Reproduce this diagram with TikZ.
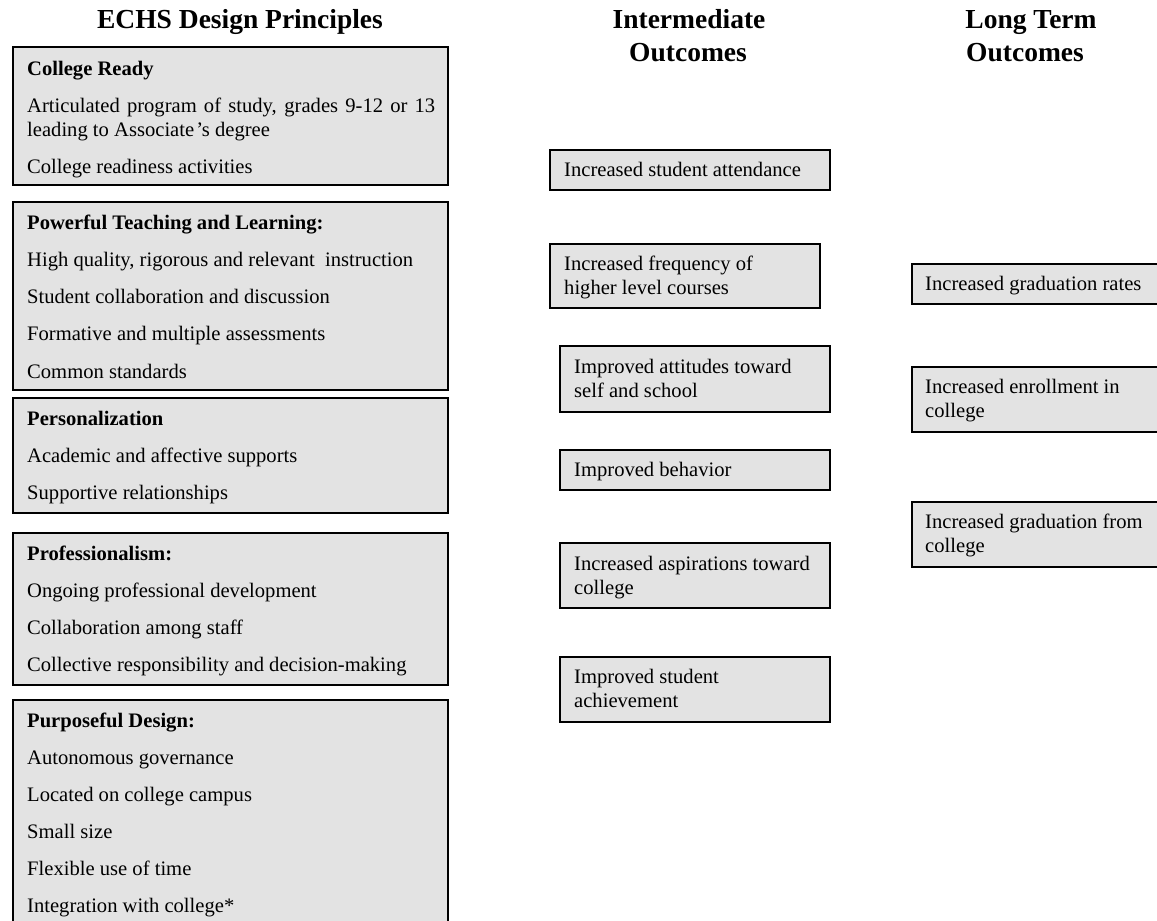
\documentclass[tikz,border=0pt]{standalone}
\usepackage{fontspec}
\setmainfont{Liberation Serif}
\definecolor{boxfill}{RGB}{227,227,227}
\begin{document}
\begin{tikzpicture}[x=1pt,y=-1pt,
  pbox/.style={draw=black, line width=2.2pt, fill=boxfill, rectangle, anchor=north west, inner sep=0pt},
  txt/.style={anchor=base west, inner sep=0pt, font=\fontsize{20.6}{24}\selectfont},
  hdr/.style={anchor=base west, inner sep=0pt, font=\fontsize{20.6}{24}\selectfont\bfseries},
  ttl/.style={anchor=base, inner sep=0pt, font=\fontsize{27.5}{33}\selectfont\bfseries}]
\useasboundingbox (0,0) rectangle (1157,921);
\fill[white] (0,0) rectangle (1157,921);
\clip (0,0) rectangle (1157,921);

% titles
\node[ttl] (tA) at (240,28) {ECHS Design Principles};
\node[ttl] (tB1) at (689,28) {Intermediate};
\node[ttl] (tB2) at (688,61) {Outcomes};
\node[ttl] (tC1) at (1031,28) {Long Term};
\node[ttl] (tC2) at (1025,61) {Outcomes};

% left column boxes
\node[pbox, minimum width=435pt, minimum height=138pt] (b1) at (12,46) {};
\node[pbox, minimum width=435pt, minimum height=188pt] (b2) at (12,201) {};
\node[pbox, minimum width=435pt, minimum height=115pt] (b3) at (12,397) {};
\node[pbox, minimum width=435pt, minimum height=152pt] (b4) at (12,532) {};
\node[pbox, minimum width=435pt, minimum height=260pt] (b5) at (12,699) {};

\node[hdr] (b1h) at (27,75) {College Ready};
\node[txt] (b1a) at (27,112) {\makebox[408pt][s]{Articulated program of study, grades 9-12 or 13}};
\node[txt] (b1b) at (27,136) {leading to Associate\kern2pt’s degree};
\node[txt] (b1c) at (27,173) {College readiness activities};

\node[hdr] (b2h) at (27,229) {Powerful Teaching and Learning:};
\node[txt] (b2a) at (27,266) {High quality, rigorous and relevant~ instruction};
\node[txt] (b2b) at (27,303) {Student collaboration and discussion};
\node[txt] (b2c) at (27,340) {Formative and multiple assessments};
\node[txt] (b2d) at (27,378) {Common standards};

\node[hdr] (b3h) at (27,425) {Personalization};
\node[txt] (b3a) at (27,462) {Academic and affective supports};
\node[txt] (b3b) at (27,499) {Supportive relationships};

\node[hdr] (b4h) at (27,560) {Professionalism:};
\node[txt] (b4a) at (27,597) {Ongoing professional development};
\node[txt] (b4b) at (27,634) {Collaboration among staff};
\node[txt] (b4c) at (27,671) {Collective responsibility and decision-making};

\node[hdr] (b5h) at (27,727) {Purposeful Design:};
\node[txt] (b5a) at (27,764) {Autonomous governance};
\node[txt] (b5b) at (27,801) {Located on college campus};
\node[txt] (b5c) at (27,838) {Small size};
\node[txt] (b5d) at (27,875) {Flexible use of time};
\node[txt] (b5e) at (27,912) {Integration with college*};

% intermediate outcomes
\node[pbox, minimum width=280pt, minimum height=40pt] (m1) at (549,149) {};
\node[txt] (m1a) at (564,176) {Increased student attendance};

\node[pbox, minimum width=270pt, minimum height=64pt] (m2) at (549,243) {};
\node[txt] (m2a) at (564,270) {Increased frequency of};
\node[txt] (m2b) at (564,294) {higher level courses};

\node[pbox, minimum width=270pt, minimum height=66pt] (m3) at (559,345) {};
\node[txt] (m3a) at (574,373) {Improved attitudes toward};
\node[txt] (m3b) at (574,397) {self and school};

\node[pbox, minimum width=270pt, minimum height=40pt] (m4) at (559,449) {};
\node[txt] (m4a) at (574,476) {Improved behavior};

\node[pbox, minimum width=270pt, minimum height=65pt] (m5) at (559,542) {};
\node[txt] (m5a) at (574,570) {Increased aspirations toward};
\node[txt] (m5b) at (574,594) {college};

\node[pbox, minimum width=270pt, minimum height=65pt] (m6) at (559,656) {};
\node[txt] (m6a) at (574,683.5) {Improved student};
\node[txt] (m6b) at (574,707.5) {achievement};

% long term outcomes
\node[pbox, minimum width=270pt, minimum height=40pt] (r1) at (911,263) {};
\node[txt] (r1a) at (925,290) {Increased graduation rates};

\node[pbox, minimum width=270pt, minimum height=65pt] (r2) at (911,366) {};
\node[txt] (r2a) at (925,393.5) {Increased enrollment in};
\node[txt] (r2b) at (925,417.5) {college};

\node[pbox, minimum width=270pt, minimum height=65pt] (r3) at (911,501) {};
\node[txt] (r3a) at (925,528.5) {Increased graduation from};
\node[txt] (r3b) at (925,552.5) {college};
\end{tikzpicture}
\end{document}
